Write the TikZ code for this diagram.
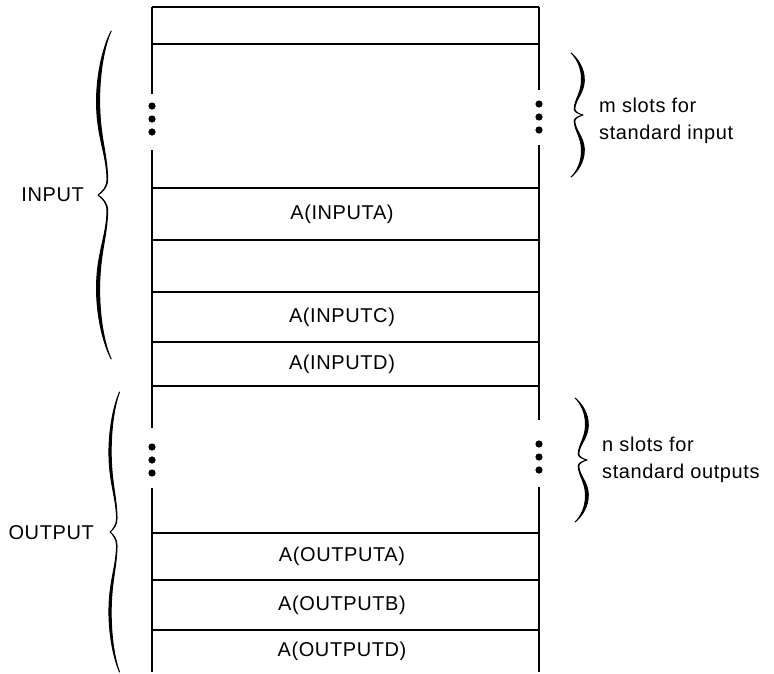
\documentclass[tikz,border=0pt]{standalone}
\usepackage{fontspec}
\newfontfamily\lblfont{Liberation Sans}[LetterSpace=3]
\begin{document}
\begin{tikzpicture}[x=1pt,y=-1pt,
  rule/.style={line width=1.9pt},
  lbl/.style={font=\lblfont\fontsize{20}{27}\selectfont, inner sep=0pt},
  dot/.style={fill=black},
  pics/curly/.style={code={
    \filldraw[line width=1pt, line join=round]
      (12,-1) .. controls (5.7,-0.92) and (-1.8,-0.75) .. (-1.3,-0.55)
      .. controls (-0.8,-0.35) and (7.7,-0.25) .. (8.2,-0.1)
      .. controls (8.4,-0.05) and (4,-0.02) .. (0,0)
      .. controls (4,0.02) and (8.4,0.05) .. (8.2,0.1)
      .. controls (7.7,0.25) and (-0.8,0.35) .. (-1.3,0.55)
      .. controls (-1.8,0.75) and (5.7,0.92) .. (12,1)
      .. controls (6.3,0.92) and (1,0.75) .. (1.5,0.55)
      .. controls (2,0.35) and (8.3,0.25) .. (8.8,0.1)
      .. controls (9,0.05) and (4.5,0.02) .. (0,0)
      .. controls (4.5,-0.02) and (9,-0.05) .. (8.8,-0.1)
      .. controls (8.3,-0.25) and (2,-0.35) .. (1.5,-0.55)
      .. controls (1,-0.75) and (6.3,-0.92) .. (12,-1) -- cycle;
  }}]
\useasboundingbox (0,0) rectangle (774,673);

% outer frame: top rule and the two side walls with gaps for the dots
\draw[rule] (152,7) -- (539,7);
\draw[rule] (152,7) -- (152,94);
\draw[rule] (152,150) -- (152,428);
\draw[rule] (152,488) -- (152,672);
\draw[rule] (539,7) -- (539,90);
\draw[rule] (539,145) -- (539,420);
\draw[rule] (539,487) -- (539,672);

% slot separators
\foreach \y in {44,188,240,292,342,386,533,580,630}
  \draw[rule] (152,\y) -- (539,\y);

% elision dots
\foreach \y in {106,119,132} \fill[dot] (152,\y) circle[radius=3.6pt];
\foreach \y in {104,117,130} \fill[dot] (539,\y) circle[radius=3.6pt];
\foreach \y in {447,460,473} \fill[dot] (152,\y) circle[radius=3.6pt];
\foreach \y in {444,457,470} \fill[dot] (539,\y) circle[radius=3.6pt];

% slot contents
\node[lbl] (inA)  at (342,214) {A(INPUTA)};
\node[lbl] (inC)  at (342,317) {A(INPUTC)};
\node[lbl] (inD)  at (342,364) {A(INPUTD)};
\node[lbl] (outA) at (342,556) {A(OUTPUTA)};
\node[lbl] (outB) at (342,605) {A(OUTPUTB)};
\node[lbl] (outD) at (342,651) {A(OUTPUTD)};

% group braces on the left
\begin{scope}[shift={(98,195)}, xscale=1.1, yscale=164]
  \pic[transform shape] {curly};
\end{scope}
\begin{scope}[shift={(110,532)}, xscale=0.8, yscale=140]
  \pic[transform shape] {curly};
\end{scope}
\node[lbl, anchor=east] (input)  at (84,195) {INPUT};
\node[lbl, anchor=east] (output) at (94,533) {OUTPUT};

% standard-slot braces on the right
\begin{scope}[shift={(583,115)}, xscale=-1, yscale=62]
  \pic[transform shape] {curly};
\end{scope}
\begin{scope}[shift={(587,460)}, xscale=-1, yscale=62]
  \pic[transform shape] {curly};
\end{scope}
\node[lbl, anchor=west, align=left] (mslots) at (599,121) {m slots for\\standard input};
\node[lbl, anchor=west, align=left] (nslots) at (602,460) {n slots for\\standard outputs};
\end{tikzpicture}
\end{document}
